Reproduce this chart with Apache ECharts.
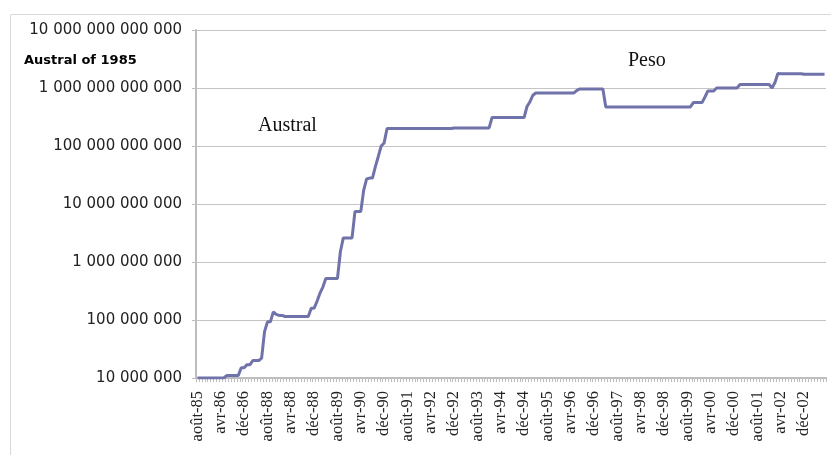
<!DOCTYPE html>
<html><head><meta charset="utf-8">
<script src="https://cdn.jsdelivr.net/npm/echarts@6/dist/echarts.min.js"></script>
<style>html,body{margin:0;padding:0;background:#fff}#c{width:831px;height:455px}</style>
</head><body><div id="c"></div>
<script>
// Monthly categories, août 1985 .. juillet 2003 (216 months)
const monthNames = ['janv','févr','mars','avr','mai','juin','juil','août','sept','oct','nov','déc'];
const categories = [];
for (let i = 0; i < 216; i++) {
  const mi = (7 + i) % 12, yr = 85 + Math.floor((7 + i) / 12);
  categories.push(monthNames[mi] + '-' + String(yr % 100).padStart(2, '0'));
}
// Tick labels as printed on the original (every 8th month)
const tickLabels = ['août-85','avr-86','déc-86','août-88','avr-88','déc-88','août-89','avr-90','déc-90',
  'août-91','avr-92','déc-92','août-93','avr-94','déc-94','août-95','avr-96','déc-96','août-97',
  'avr-98','déc-98','août-99','avr-00','déc-00','août-01','avr-02','déc-02'];
// Value in Austral of 1985 (log scale)
const values = [
  1e7,1e7,1e7,1e7,1e7,1e7,1e7,1e7,1e7,1e7,
  1.1e7,1.1e7,1.1e7,1.1e7,1.1e7,
  1.5e7,1.5e7,
  1.7e7,1.7e7,
  2.0e7,2.0e7,2.0e7,
  2.2e7,
  6.3e7,
  9.3e7,9.3e7,
  1.38e8,
  1.25e8,
  1.2e8,1.2e8,
  1.15e8,1.15e8,1.15e8,1.15e8,1.15e8,1.15e8,1.15e8,1.15e8,1.15e8,
  1.6e8,1.6e8,
  2.1e8,
  2.9e8,
  3.7e8,
  5.2e8,5.2e8,5.2e8,5.2e8,5.2e8,
  1.5e9,
  2.6e9,2.6e9,2.6e9,2.6e9,
  7.4e9,7.4e9,7.4e9,
  1.74e10,
  2.7e10,
  2.8e10,2.8e10,
  4.4e10,
  6.6e10,
  1.0e11,
  1.13e11,
  2.0e11,2.0e11,2.0e11,2.0e11,2.0e11,2.0e11,2.0e11,2.0e11,2.0e11,2.0e11,
  2.0e11,2.0e11,2.0e11,2.0e11,2.0e11,2.0e11,2.0e11,2.0e11,2.0e11,2.0e11,
  2.0e11,2.0e11,2.0e11,
  2.05e11,2.05e11,2.05e11,2.05e11,2.05e11,2.05e11,2.05e11,2.05e11,2.05e11,2.05e11,
  2.05e11,2.05e11,2.05e11,
  3.1e11,3.1e11,3.1e11,3.1e11,3.1e11,3.1e11,3.1e11,3.1e11,3.1e11,3.1e11,3.1e11,3.1e11,
  4.8e11,
  5.8e11,
  7.5e11,
  8.2e11,8.2e11,8.2e11,8.2e11,8.2e11,8.2e11,8.2e11,8.2e11,8.2e11,8.2e11,8.2e11,8.2e11,8.2e11,8.2e11,
  9.0e11,
  9.6e11,9.6e11,9.6e11,9.6e11,9.6e11,9.6e11,9.6e11,9.6e11,9.6e11,
  4.7e11,4.7e11,4.7e11,4.7e11,4.7e11,4.7e11,4.7e11,4.7e11,4.7e11,4.7e11,
  4.7e11,4.7e11,4.7e11,4.7e11,4.7e11,4.7e11,4.7e11,4.7e11,4.7e11,4.7e11,
  4.7e11,4.7e11,4.7e11,4.7e11,4.7e11,4.7e11,4.7e11,4.7e11,4.7e11,4.7e11,
  5.6e11,5.6e11,5.6e11,5.6e11,
  7.0e11,
  8.9e11,8.9e11,8.9e11,
  1.0e12,1.0e12,1.0e12,1.0e12,1.0e12,1.0e12,1.0e12,1.0e12,
  1.15e12,1.15e12,1.15e12,1.15e12,1.15e12,1.15e12,1.15e12,1.15e12,1.15e12,1.15e12,1.15e12,
  1.0e12,
  1.24e12,
  1.78e12,
  1.76e12,1.76e12,1.76e12,1.76e12,1.76e12,1.76e12,1.76e12,1.76e12,
  1.72e12,1.72e12,1.72e12,1.72e12,1.72e12,1.72e12,1.72e12,1.72e12
];
const yMin = 1e7, yMax = 1e13;

function fmt(v) {
  return String(Math.round(v)).replace(/\B(?=(\d{3})+(?!\d))/g, ' ');
}

const chart = echarts.init(document.getElementById('c'), null, {renderer: 'canvas'});
chart.setOption({
  animation: false,
  backgroundColor: '#ffffff',
  grid: {left: 196, right: 5, top: 30, bottom: 77, containLabel: false},
  xAxis: {
    type: 'category',
    data: categories,
    boundaryGap: true,
    axisLine: {lineStyle: {color: '#bdbdbd', width: 2}},
    axisTick: {show: true, interval: 0, length: 4, lineStyle: {color: '#bdbdbd'}},
    axisLabel: {
      interval: 7, rotate: 90, margin: 13,
      fontFamily: 'Liberation Serif', fontSize: 16.5, color: '#222',
      formatter: function (v, i) { return tickLabels[Math.round(i / 8)] || ''; }
    },
    splitLine: {show: false}
  },
  yAxis: {
    type: 'log', logBase: 10, min: yMin, max: yMax,
    axisLine: {show: true, lineStyle: {color: '#bdbdbd', width: 2}},
    axisTick: {show: true, length: 4, lineStyle: {color: '#bdbdbd'}},
    axisLabel: {fontFamily: 'DejaVu Sans', fontSize: 15, color: '#222', margin: 14, formatter: fmt},
    splitLine: {lineStyle: {color: '#c4c4c4', width: 1}},
    minorTick: {show: false}
  },
  series: [{
    type: 'line', data: values, symbol: 'none',
    lineStyle: {color: '#6f73aa', width: 3}
  }],
  graphic: [
    {type: 'rect', left: 8, top: 12, shape: {width: 900, height: 700}, style: {fill: 'none', stroke: '#d9d9d9', lineWidth: 1}, z: -1},
    {type: 'text', left: 24, top: 54, style: {text: 'Austral of 1985', font: 'bold 13px "DejaVu Sans"', fill: '#000'}},
    {type: 'text', left: 258, top: 116, style: {text: 'Austral', font: '20px "Liberation Serif"', fill: '#111'}},
    {type: 'text', left: 628, top: 51, style: {text: 'Peso', font: '20px "Liberation Serif"', fill: '#111'}}
  ]
});
</script>
</body></html>
